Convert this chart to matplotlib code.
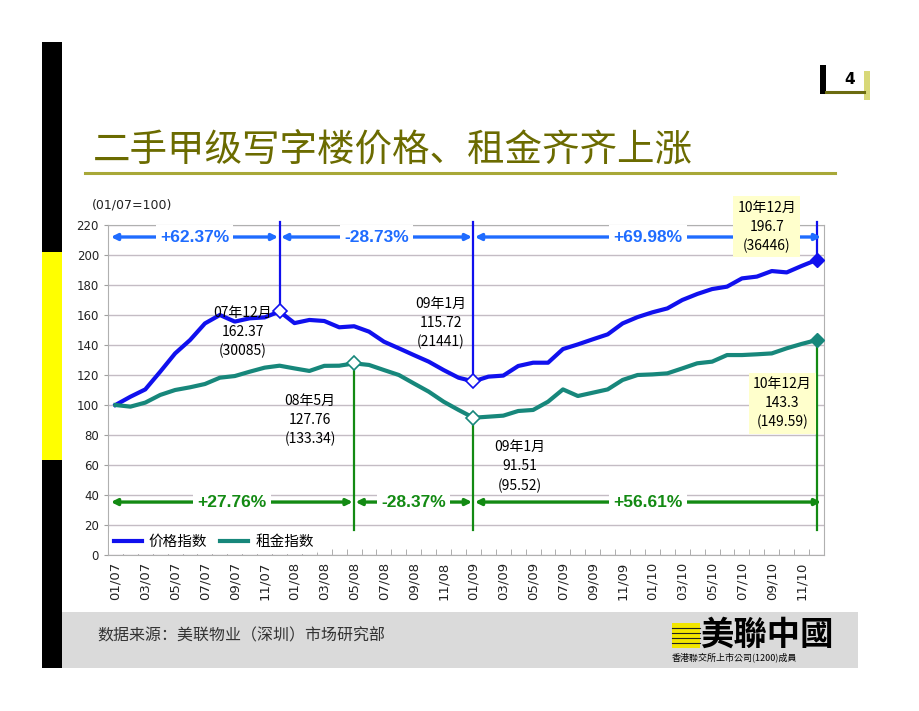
import matplotlib
matplotlib.use("Agg")
import matplotlib.pyplot as plt
from matplotlib.patches import Rectangle
from matplotlib.lines import Line2D

plt.rcParams['font.family'] = ['Noto Sans CJK SC', 'DejaVu Sans']

# ---- data ----
month_ticks = ['01/07', '03/07', '05/07', '07/07', '09/07', '11/07',
               '01/08', '03/08', '05/08', '07/08', '09/08', '11/08',
               '01/09', '03/09', '05/09', '07/09', '09/09', '11/09',
               '01/10', '03/10', '05/10', '07/10', '09/10', '11/10']

price_index = [100, 105.5, 110.4, 122.2, 134.4, 143.3, 154.4, 160, 155.6, 157.8,
               158.4, 162.37, 154.6, 156.7, 156, 151.8, 152.5, 148.9, 142.2, 137.8,
               133.3, 128.9, 123.3, 118.2, 115.72, 118.9, 119.6, 126, 128.2, 128.2,
               137.3, 140.4, 143.8, 147.1, 154.4, 158.6, 161.8, 164.4, 170, 174,
               177.3, 178.9, 184.4, 185.6, 189.3, 188.4, 192.7, 196.7]

rent_index = [100, 98.9, 101.6, 106.7, 110, 111.8, 114, 118.2, 119.3, 122.2,
              124.9, 126.2, 124.4, 122.7, 126.1, 126.2, 127.76, 126.7, 123.3, 120,
              114.4, 108.9, 102.2, 96.7, 91.51, 92.2, 92.9, 96, 96.7, 102.2,
              110.4, 106, 108.2, 110.4, 116.7, 120, 120.4, 121.1, 124.4, 127.8,
              128.9, 133.3, 133.3, 133.8, 134.4, 137.8, 140.7, 143.3]

price_turns = [11, 24, 47]
rent_turns = [16, 24, 47]
price_changes = ['+62.37%', '-28.73%', '+69.98%']
rent_changes = ['+27.76%', '-28.37%', '+56.61%']
price_notes = ['07年12月\n162.37\n(30085)', '09年1月\n115.72\n(21441)', '10年12月\n196.7\n(36446)']
rent_notes = ['08年5月\n127.76\n(133.34)', '09年1月\n91.51\n(95.52)', '10年12月\n143.3\n(149.59)']

BLUE = '#1010ee'
TEAL = '#17877b'
ARROW_BLUE = '#1f6cff'
GREEN = '#138a13'
W, H = 920, 711


def fx(x):
	return x / W


def fy(y):
	return 1 - y / H


def box(fig, x0, y0, x1, y1, color):
	fig.add_artist(Rectangle((fx(x0), fy(y1)), fx(x1 - x0), (y1 - y0) / H,
							 transform=fig.transFigure, facecolor=color, edgecolor='none'))


def hline(fig, x0, x1, y, color, lw):
	fig.add_artist(Line2D([fx(x0), fx(x1)], [fy(y), fy(y)], transform=fig.transFigure, color=color, lw=lw))


fig = plt.figure(figsize=(9.2, 7.11), dpi=100)

# slide decorations
box(fig, 42, 42, 62, 668, 'black')
box(fig, 42, 252, 62, 460, '#ffff00')
box(fig, 62, 612, 858, 668, '#dadada')
box(fig, 820, 65, 826, 94, 'black')
hline(fig, 826, 864, 92, '#6b6b10', 2.2)
box(fig, 864, 71, 870, 100, '#d8d878')
fig.text(fx(850), fy(79), '4', fontsize=11, fontweight='bold', ha='center', va='center',
		 family=['DejaVu Sans'])

fig.text(fx(93), fy(150), '二手甲级写字楼价格、租金齐齐上涨', fontsize=27, color='#6b6b00',
		 va='center', ha='left')
hline(fig, 85, 835, 173, '#a8a838', 2.2)

fig.text(fx(92), fy(205), '(01/07=100)', fontsize=9, va='center', ha='left', color='#222222',
		 family=['DejaVu Sans'])

# footer
fig.text(fx(97), fy(636), '数据来源：美联物业（深圳）市场研究部', fontsize=11.5, va='center', color='#333333')
box(fig, 672, 623, 700, 648, '#f2e600')
for yy in [628, 633, 638, 643]:
	hline(fig, 672, 700, yy, '#222222', 0.8)
fig.text(fx(700), fy(635), '美聯中國', fontsize=24, fontweight='bold', va='center', ha='left',
		 family=['Noto Sans CJK TC', 'DejaVu Sans'])
fig.text(fx(672), fy(657), '香港聯交所上市公司(1200)成員', fontsize=6.5, va='center', ha='left',
		 family=['Noto Sans CJK TC', 'DejaVu Sans'])

# chart
ax = fig.add_axes([fx(108), fy(555), fx(716), 330 / H])
x = list(range(len(price_index)))
ax.set_xlim(-0.5, len(price_index) - 0.5)
ax.set_ylim(0, 220)
ax.set_yticks(range(0, 221, 20))
ax.grid(axis='y', color='#c4bcc4', lw=1)
ax.set_axisbelow(True)
for s in ax.spines.values():
	s.set_color('#b0b0b0')
ax.set_xticks(range(0, len(price_index), 2))
ax.set_xticklabels(month_ticks, rotation=90, fontsize=9.5, family=['DejaVu Sans'], color='#222222')
ax.set_xticks([i + 0.5 for i in range(len(price_index) - 1)], minor=True)
ax.tick_params(axis='x', which='major', length=0, pad=5)
ax.tick_params(axis='x', which='minor', direction='in', length=4, color='#a0a0a0')
ax.tick_params(axis='y', labelsize=8.5, length=3, color='#a0a0a0', labelcolor='#222222')
for lab in ax.get_yticklabels():
	lab.set_family(['DejaVu Sans'])

ax.plot(x, price_index, color=BLUE, lw=3, label='价格指数', zorder=4)
ax.plot(x, rent_index, color=TEAL, lw=3, label='租金指数', zorder=4)

# turning point lines and markers
for t in price_turns:
	ax.plot([t, t], [222, price_index[t]], color=BLUE, lw=1.6, clip_on=False, zorder=3)
for t in rent_turns:
	ax.plot([t, t], [rent_index[t], 17], color=GREEN, lw=1.6, clip_on=False, zorder=3)
for t in price_turns[:2]:
	ax.plot(t, price_index[t], marker='D', ms=7, mfc='white', mec=BLUE, mew=1.2, zorder=6, clip_on=False)
for t in rent_turns[:2]:
	ax.plot(t, rent_index[t], marker='D', ms=7, mfc='white', mec=TEAL, mew=1.2, zorder=6, clip_on=False)
ax.plot(47, price_index[47], marker='D', ms=7.5, color=BLUE, zorder=6, clip_on=False)
ax.plot(47, rent_index[47], marker='D', ms=7.5, color=TEAL, zorder=6, clip_on=False)

# change arrows
def change_arrows(bounds, labels, yv, color):
	for i, lab in enumerate(labels):
		a, b = bounds[i], bounds[i + 1]
		ax.annotate('', xy=(a, yv), xytext=(b, yv), zorder=5,
					arrowprops=dict(arrowstyle='<|-|>', color=color, lw=2.4, mutation_scale=9,
									shrinkA=1, shrinkB=1))
		ax.text((a + b) / 2, yv, lab, color=color, fontsize=12.5, fontweight='bold', ha='center',
				va='center', family=['Liberation Sans', 'DejaVu Sans'], zorder=6,
				bbox=dict(facecolor='white', edgecolor='none', pad=3))


change_arrows([-0.4] + price_turns[:2] + [47.4], price_changes, 212, ARROW_BLUE)
change_arrows([-0.4] + rent_turns[:2] + [47.4], rent_changes, 35.3, GREEN)

# value notes
note_kw = dict(fontsize=10, ha='center', va='center', linespacing=1.45, zorder=7)
ax.text(8.55, 148.7, price_notes[0], **note_kw)
ax.text(21.8, 154.7, price_notes[1], **note_kw)
ax.text(43.66, 218.7, price_notes[2], clip_on=False,
		bbox=dict(facecolor='#ffffcc', edgecolor='none', pad=3), **note_kw)
ax.text(13.04, 90, rent_notes[0], **note_kw)
ax.text(27.1, 58.9, rent_notes[1], **note_kw)
ax.text(44.7, 101.3, rent_notes[2],
		bbox=dict(facecolor='#ffffcc', edgecolor='none', pad=3), **note_kw)

leg = ax.legend(loc='lower left', ncol=2, fontsize=10.5, frameon=True, handlelength=1.9,
				handletextpad=0.5, columnspacing=0.9, borderaxespad=0.1, borderpad=0.3,
				bbox_to_anchor=(0.0, 0.0))
leg.get_frame().set_facecolor('white')
leg.get_frame().set_edgecolor('none')
leg.get_frame().set_alpha(1)
leg.set_zorder(8)

plt.savefig('out.png', dpi=100)
plt.close()
